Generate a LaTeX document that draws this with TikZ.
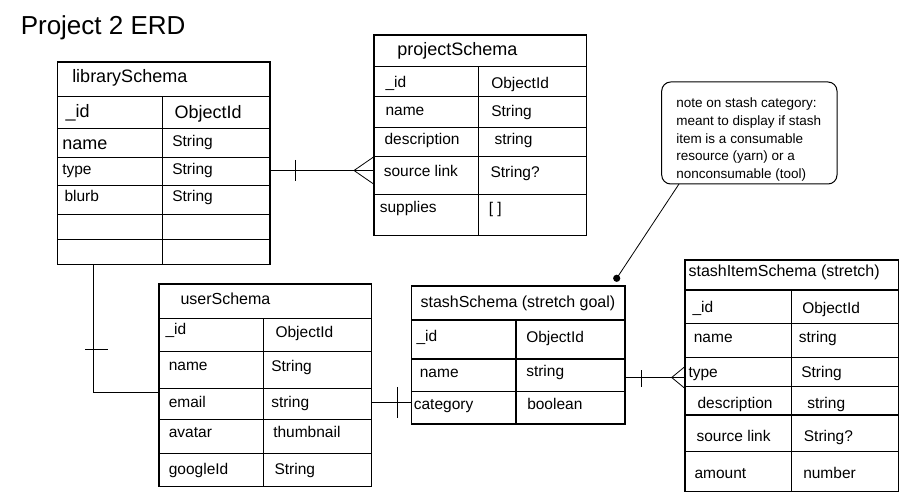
\documentclass[tikz,border=0pt]{standalone}
\usepackage{fontspec}
\setmainfont{Liberation Sans}
\begin{document}
\begin{tikzpicture}[x=1pt,y=-1pt,line width=1.1pt,
  tblbox/.style={draw,line width=1.1pt,inner sep=0pt,outer sep=0pt,anchor=north west},
  txt/.style={anchor=base west,inner sep=0pt,font=\fontsize{15.5}{18}\selectfont},
  big/.style={anchor=base west,inner sep=0pt,font=\fontsize{18}{20}\selectfont},
  hdr/.style={anchor=base west,inner sep=0pt,font=\fontsize{16}{18}\selectfont},
  notetxt/.style={anchor=base west,inner sep=0pt,font=\fontsize{13.5}{16}\selectfont},
  crow/.style={line width=0.8pt}]
\useasboundingbox (0,0) rectangle (916,502);
\newcommand\hln[2]{\draw (#1.west |- 0,#2) -- (#1.east |- 0,#2);}

% title
\node[anchor=base west,inner sep=0pt,font=\fontsize{26}{29}\selectfont] (title) at (20.2,35) {Project 2 ERD};

% ---------- librarySchema ----------
\node[tblbox,minimum width=212.5pt,minimum height=202.3pt] (lib) at (57.5,62) {};
\hln{lib}{96.7}\hln{lib}{128.3}\hln{lib}{157.7}\hln{lib}{185.7}\hln{lib}{214.3}\hln{lib}{239.3}
\draw (162.7,96.7) -- (162.7,264.3);
\node[big] (libh) at (71.7,82.3) {librarySchema};
\node[big] (libid) at (65,117.7) {\_id};
\node[big] (libidt) at (174,119) {ObjectId};
\node[big] (libname) at (61.7,150) {name};
\node[txt] (libnamet) at (171.7,146.7) {String};
\node[txt] (libtype) at (61.7,174.3) {type};
\node[txt] (libtypet) at (171.7,174.3) {String};
\node[txt] (libblurb) at (64,201.7) {blurb};
\node[txt] (libblurbt) at (171.7,201.7) {String};

% ---------- projectSchema ----------
\node[tblbox,minimum width=212.7pt,minimum height=200.7pt] (proj) at (374,35) {};
\hln{proj}{66.7}\hln{proj}{96.7}\hln{proj}{127.7}\hln{proj}{156.7}\hln{proj}{194.3}
\draw (478.3,66.7) -- (478.3,235.7);
\node[big] (projh) at (396.7,55.7) {projectSchema};
\node[txt] (projid) at (385,87.7) {\_id};
\node[txt] (projidt) at (490.7,88.3) {ObjectId};
\node[txt] (projname) at (385,115.7) {name};
\node[txt] (projnamet) at (490.7,116.7) {String};
\node[txt] (projdesc) at (384,144.3) {description};
\node[txt] (projdesct) at (494,145) {string};
\node[txt] (projsrc) at (383.3,176.7) {source link};
\node[txt] (projsrct) at (490,177.7) {String?};
\node[txt] (projsup) at (379.3,212.3) {supplies};
\node[txt] (projsupt) at (488.3,213.3) {[ ]};

% ---------- userSchema ----------
\node[tblbox,minimum width=212.7pt,minimum height=202.7pt] (user) at (159,284) {};
\hln{user}{318.3}\hln{user}{351.7}\hln{user}{388.3}\hln{user}{419.3}\hln{user}{453.3}
\draw (263.3,318.3) -- (263.3,486.7);
\node[hdr] (userh) at (180,304.3) {userSchema};
\node[txt] (userid) at (165,335) {\_id};
\node[txt] (useridt) at (275,337.3) {ObjectId};
\node[txt] (username) at (168.3,370.7) {name};
\node[txt] (usernamet) at (270.7,371.7) {String};
\node[txt] (useremail) at (168.3,407.7) {email};
\node[txt] (useremailt) at (270.7,407.7) {string};
\node[txt] (useravatar) at (168.3,437.7) {avatar};
\node[txt] (useravatart) at (272.7,437.7) {thumbnail};
\node[txt] (usergid) at (168.3,474.3) {googleId};
\node[txt] (usergidt) at (274,474.3) {String};

% ---------- stashSchema ----------
\node[tblbox,minimum width=213.3pt,minimum height=138pt] (stash) at (411.7,286) {};
\hln{stash}{320}\hln{stash}{359}\hln{stash}{391.7}
\draw (516,320) -- (516,424);
\node[hdr] (stashh) at (420,307.7) {stashSchema (stretch goal)};
\node[txt] (stashid) at (416,341.7) {\_id};
\node[txt] (stashidt) at (525.7,342.3) {ObjectId};
\node[txt] (stashname) at (419.3,377.3) {name};
\node[txt] (stashnamet) at (525.7,376.7) {string};
\node[txt] (stashcat) at (413.3,409.3) {category};
\node[txt] (stashcatt) at (526.7,410) {boolean};

% ---------- stashItemSchema ----------
\node[tblbox,minimum width=213.3pt,minimum height=231.7pt] (item) at (685,260) {};
\hln{item}{290}\hln{item}{323.3}\hln{item}{357.7}\hln{item}{386.7}\hln{item}{415}\hln{item}{451.7}
\draw (791.7,290) -- (791.7,491.7);
\node[hdr] (itemh) at (688,276.7) {stashItemSchema (stretch)};
\node[txt] (itemid) at (692,312.3) {\_id};
\node[txt] (itemidt) at (801.7,314) {ObjectId};
\node[txt] (itemname) at (693.3,342.3) {name};
\node[txt] (itemnamet) at (798.3,342.3) {string};
\node[txt] (itemtype) at (688,377.3) {type};
\node[txt] (itemtypet) at (800.7,377.3) {String};
\node[txt] (itemdesc) at (697,409) {description};
\node[txt] (itemdesct) at (806.7,409) {string};
\node[txt] (itemsrc) at (696,441.7) {source link};
\node[txt] (itemsrct) at (803.3,441.7) {String?};
\node[txt] (itemamt) at (694,478.3) {amount};
\node[txt] (itemamtt) at (802.7,478.3) {number};

% ---------- note ----------
\node[draw,line width=1pt,rounded corners=9pt,inner sep=0pt,outer sep=0pt,anchor=north west,
      minimum width=175.3pt,minimum height=102pt] (note) at (661.7,82) {};
\node[notetxt] (n1) at (675.7,108) {note on stash category:};
\node[notetxt] (n2) at (675.7,125.6) {meant to display if stash};
\node[notetxt] (n3) at (675.7,143.2) {item is a consumable};
\node[notetxt] (n4) at (675.7,160.8) {resource (yarn) or a};
\node[notetxt] (n5) at (675.7,178.4) {nonconsumable (tool)};
\coordinate (dot) at (616.7,278.3);
\draw[line width=0.8pt] (note.south west -| 679,0) -- (dot);
\fill (dot) circle (3.6pt);

% ---------- connectors ----------
% library -> project (one to many)
\draw (lib.east |- 0,170.5) -- (proj.west |- 0,170.5);
\draw (295.5,160) -- (295.5,181);
\draw[crow] (354,170.5) -- (proj.west |- 0,156.7);
\draw[crow] (354,170.5) -- (proj.west |- 0,184.3);

% library -> user
\draw (lib.south west) ++(35.8,0) |- (user.west |- 0,392.7);
\draw (85,349.3) -- (107.7,349.3);

% user -> stash
\draw (user.east |- 0,402.5) -- (stash.west |- 0,402.5);
\draw (397.3,387) -- (397.3,418);

% stash -> stashItem (one to many)
\draw (stash.east |- 0,377.5) -- (item.west |- 0,377.5);
\draw (641.7,370.5) -- (641.7,386.7);
\draw[crow] (671.7,377.5) -- (item.west |- 0,366.5);
\draw[crow] (671.7,377.5) -- (item.west |- 0,388.5);
\end{tikzpicture}
\end{document}
